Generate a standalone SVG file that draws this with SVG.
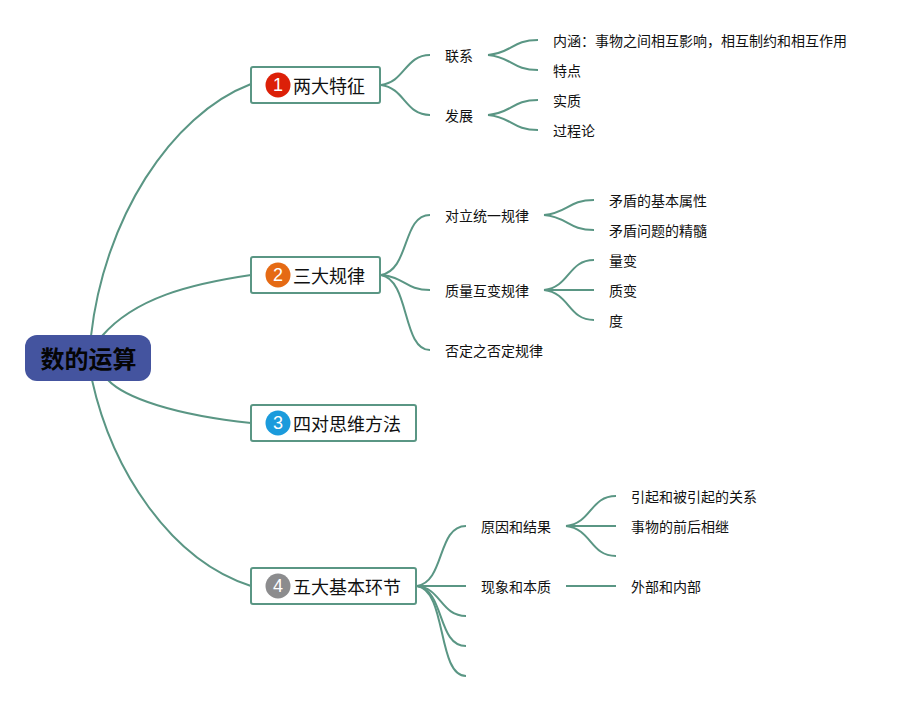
<svg xmlns="http://www.w3.org/2000/svg" width="907" height="701" viewBox="0 0 907 701">
<style>
text{font-family:"Noto Sans CJK SC","Noto Sans",sans-serif;fill:#111}
.c{fill:none;stroke:#5a9684;stroke-width:2}
.b{fill:#fff;stroke:#5a9684;stroke-width:2}
.t{font-size:18px}
.s{font-size:14px}
.n{font-family:"Liberation Sans",sans-serif;font-size:18px;fill:#fff;text-anchor:middle}
</style>
<rect width="907" height="701" fill="#fff"/>
<g id="connectors">
<path class="c" d="M91 336C104 220 170 115 251 84"/>
<path class="c" d="M102 336C135 298 190 284 251 275"/>
<path class="c" d="M108 380C125 398 175 415 251 423"/>
<path class="c" d="M92 380C112 470 170 560 251 586"/>
<path class="c" d="M381 85C405 82 405 55 430 55"/>
<path class="c" d="M381 85C405 88 405 115 430 115"/>
<path class="c" d="M488 55C512 53 512 40 538 40"/>
<path class="c" d="M488 55C512 57 512 70 538 70"/>
<path class="c" d="M488 115C512 113 512 100 538 100"/>
<path class="c" d="M488 115C512 117 512 130 538 130"/>
<path class="c" d="M381 275C410 270 402 215 430 215"/>
<path class="c" d="M381 275C405 277 405 290 430 290"/>
<path class="c" d="M381 275C410 280 402 350 430 350"/>
<path class="c" d="M544 215C568 213 568 200 594 200"/>
<path class="c" d="M544 215C568 217 568 230 594 230"/>
<path class="c" d="M544 290C570 287 568 260 594 260"/>
<path class="c" d="M544 290H594"/>
<path class="c" d="M544 290C570 293 568 320 594 320"/>
<path class="c" d="M417 586C445 582 437 526 466 526"/>
<path class="c" d="M417 586H466"/>
<path class="c" d="M417 586C441 588 441 616 466 616"/>
<path class="c" d="M417 586C445 590 437 646 466 646"/>
<path class="c" d="M417 586C447 590 437 676 466 676"/>
<path class="c" d="M566 526C592 523 590 496 616 496"/>
<path class="c" d="M566 526H616"/>
<path class="c" d="M566 526C592 529 590 556 616 556"/>
<path class="c" d="M566 586H616"/>
</g>
<g id="root"><rect x="25" y="335" width="126" height="46" rx="12" fill="#44549f"/><text x="88.500" y="368" font-size="24" font-weight="700" text-anchor="middle" style="fill:#050505">数的运算</text></g>
<g id="n1"><rect class="b" x="251" y="67" width="129" height="36" rx="2"/><circle cx="278" cy="85" r="12.500" fill="#dc2008"/><text class="n" x="278" y="91">1</text><text class="t" x="293" y="93">两大特征</text></g>
<g id="n2"><rect class="b" x="251" y="257" width="129" height="36" rx="2"/><circle cx="278" cy="275" r="12.500" fill="#e56a14"/><text class="n" x="278" y="281">2</text><text class="t" x="293" y="283">三大规律</text></g>
<g id="n3"><rect class="b" x="251" y="405" width="165" height="36" rx="2"/><circle cx="278" cy="423" r="12.500" fill="#1b9bdc"/><text class="n" x="278" y="429">3</text><text class="t" x="293" y="431">四对思维方法</text></g>
<g id="n4"><rect class="b" x="251" y="568" width="165" height="36" rx="2"/><circle cx="278" cy="586" r="12.500" fill="#8c8c8e"/><text class="n" x="278" y="592">4</text><text class="t" x="293" y="594">五大基本环节</text></g>
<g id="labels">
<text class="s" x="445" y="61">联系</text>
<text class="s" x="445" y="121">发展</text>
<text class="s" x="553" y="46">内涵：事物之间相互影响，相互制约和相互作用</text>
<text class="s" x="553" y="76">特点</text>
<text class="s" x="553" y="106">实质</text>
<text class="s" x="553" y="136">过程论</text>
<text class="s" x="445" y="221">对立统一规律</text>
<text class="s" x="445" y="296">质量互变规律</text>
<text class="s" x="445" y="356">否定之否定规律</text>
<text class="s" x="609" y="206">矛盾的基本属性</text>
<text class="s" x="609" y="236">矛盾问题的精髓</text>
<text class="s" x="609" y="266">量变</text>
<text class="s" x="609" y="296">质变</text>
<text class="s" x="609" y="326">度</text>
<text class="s" x="481" y="532">原因和结果</text>
<text class="s" x="481" y="592">现象和本质</text>
<text class="s" x="631" y="502">引起和被引起的关系</text>
<text class="s" x="631" y="532">事物的前后相继</text>
<text class="s" x="631" y="592">外部和内部</text>
</g>
</svg>
